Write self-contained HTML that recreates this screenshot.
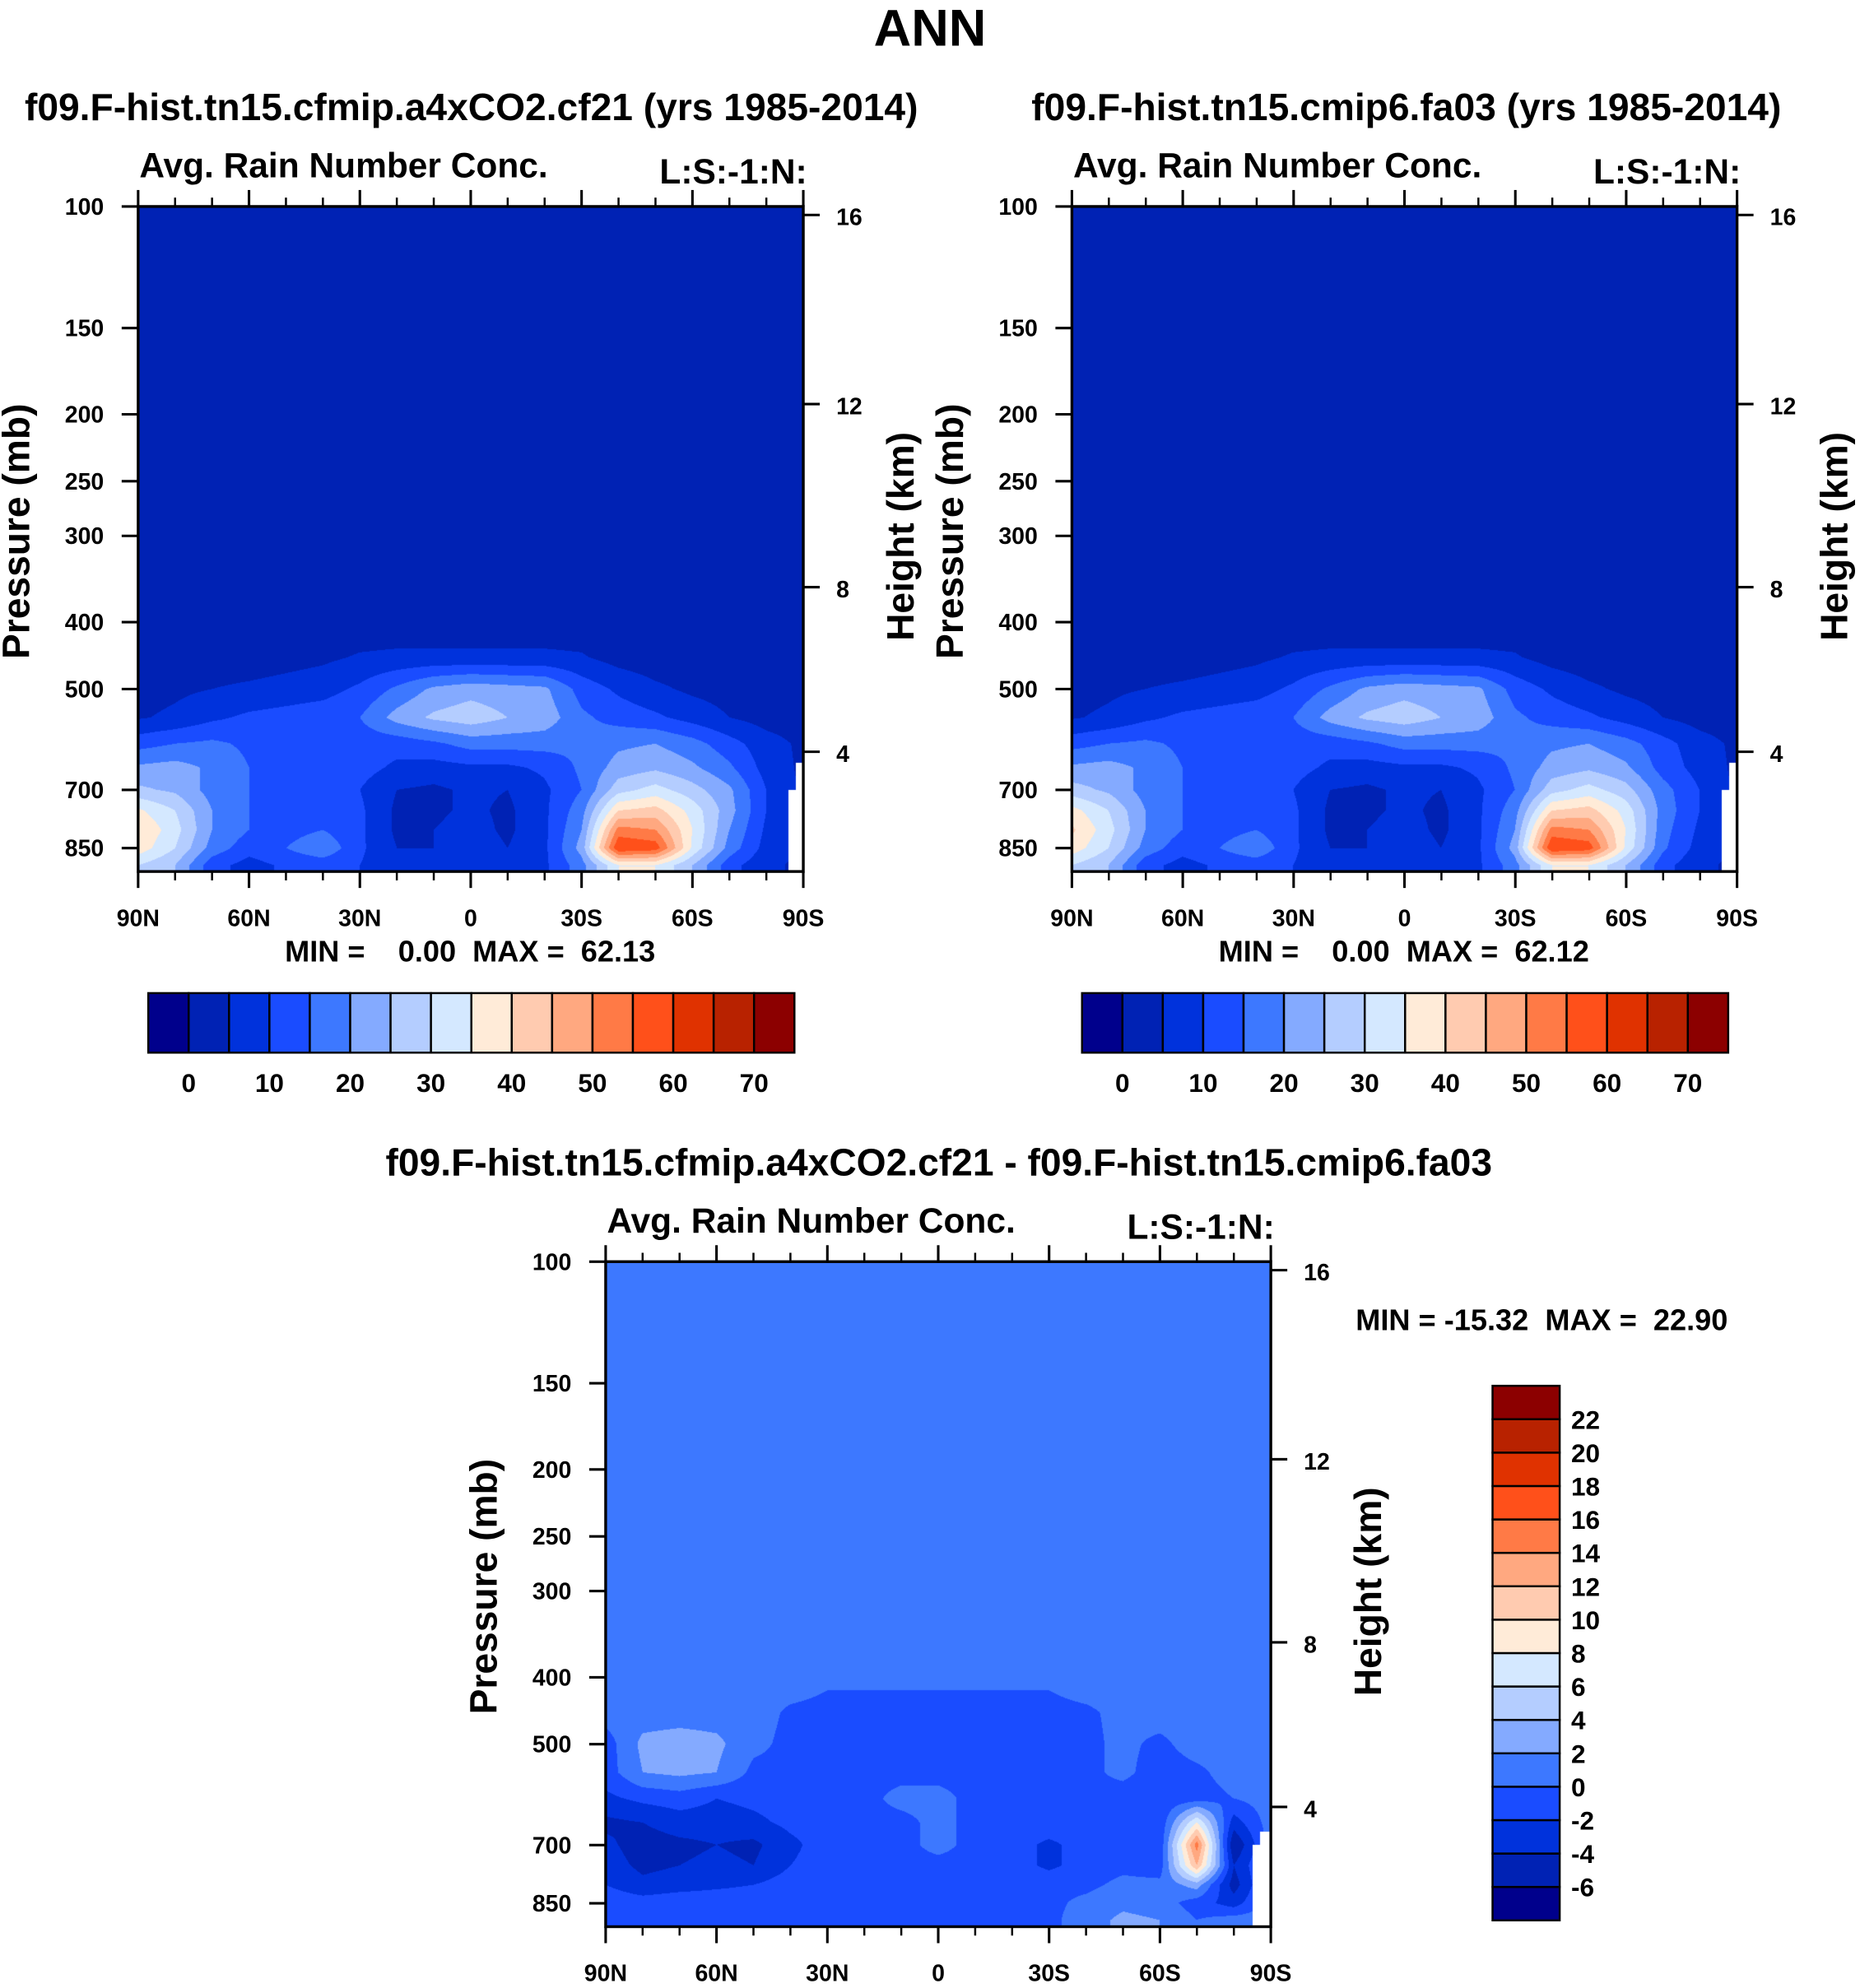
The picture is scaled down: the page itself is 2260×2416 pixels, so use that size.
<!DOCTYPE html>
<html><head><meta charset="utf-8"><title>ANN Avg. Rain Number Conc.</title>
<style>
html,body{margin:0;padding:0;background:#fff;}
#wrap{position:relative;width:2260px;height:2416px;overflow:hidden;background:#fff;}
canvas{position:absolute;}
svg{position:absolute;left:0;top:0;}
text{font-family:"Liberation Sans",Arial,sans-serif;font-weight:bold;fill:#000;}
</style></head>
<body>
<div id="wrap">
<canvas id="cA"></canvas>
<canvas id="cB"></canvas>
<canvas id="cC"></canvas>
<svg id="svg" width="2260" height="2416" viewBox="0 0 1468 1569.4">
<text x="734" y="36" font-size="41" text-anchor="middle">ANN</text>
<text x="372" y="95" font-size="30" text-anchor="middle">f09.F-hist.tn15.cfmip.a4xCO2.cf21 (yrs 1985-2014)</text>
<text x="1110" y="95" font-size="30" text-anchor="middle">f09.F-hist.tn15.cmip6.fa03 (yrs 1985-2014)</text>
<text x="741" y="928" font-size="30" text-anchor="middle">f09.F-hist.tn15.cfmip.a4xCO2.cf21 - f09.F-hist.tn15.cmip6.fa03</text>
<g id="axes"></g>
</svg>
</div>
<script>
// ---------- data ----------
const lats = [90,80,70,60,50,40,30,20,10,0,-10,-20,-30,-40,-50,-60,-70,-80,-90];
const presLevels = [100,400,450,500,550,600,650,700,750,800,850,900,950];
const fieldA = [
 [1,1,1,1,1,1,1,1,1,1,1,1,1,1,1,1,1,1,1],
 [2,2,2,2,2,2,2,2,2,2,2,2,2,2,2,2,2,2,2],
 [2,2,2,2,3,4,5.5,6,6,6,6,6,5.5,3,2,2,2,2,2],
 [3,4,5,6,7,8,11,16,21,23,22,21,13,9,6,4,3,2.5,2.5],
 [4.5,6,9,11,12,13,15,22,26,28,25,23,16,13,11,8,5,3,2.5],
 [13,15,16,14,12,12,12,12,14,17,17,17,16,19,20,17,12,7,4],
 [21,22,19,15,12,12,12,9,8,9,9,11,16,22,24,21,16,8,4],
 [26,24,18,15,12,12,10,5,4,6,5,9,15,28,32,27,21,10,4],
 [36,30,20,15,13,13,11,4,4,6,4,9,18,40,42,33,22,10,4],
 [40,32,20,15,13,15,11,4,5,7,4,9,20,52,50,35,20,9,4],
 [38,30,18,12,15,19,11,5,5,8,5,9,22,60,58,34,18,8,4],
 [30,25,12,8,11,12,10,6,6,8,6,9,18,35,35,25,12,6,4],
 [30,25,12,8,11,12,10,6,6,8,6,9,18,35,35,25,12,6,4]
];
const fieldB = [
 [1,1,1,1,1,1,1,1,1,1,1,1,1,1,1,1,1,1,1],
 [2,2,2,2,2,2,2,2,2,2,2,2,2,2,2,2,2,2,2],
 [2,2,2,2,3,4,5.5,6,6,6,6,6,5.5,3,2,2,2,2,2],
 [3,4,5,6,7,8,11,16,21,23,22,21,13,9,6,4,3,2.5,2.5],
 [4.5,6,9,11,12,13,15,22,26,28,25,23,16,13,11,8,5,3,2.5],
 [13,15,16,14,12,12,12,12,14,17,17,17,16,19,20,17,12,7,4],
 [21,22,19,15,12,12,12,9,8,9,9,11,16,22,24,21,13,8,4],
 [27,24,18,15,12,12,10,5,4,6,5,9,15,28,32,27,17,10,4],
 [37,30,20,15,13,13,11,4,4,6,4,9,18,40,42,33,18,10,4],
 [41,32,20,15,13,15,11,4,5,7,4,9,20,52,50,35,17,9,4],
 [38,30,18,12,15,19,11,5,5,8,5,9,22,60,58,34,16,8,4],
 [30,25,12,8,11,12,10,6,6,8,6,9,18,35,35,25,12,6,4],
 [30,25,12,8,11,12,10,6,6,8,6,9,18,35,35,25,12,6,4]
];
const fieldDiff = [
 [1,1,1,1,1,1,1,1,1,1,1,1,1,1,1,1,1,1,1],
 [1,1,1,1,1,1,0.3,0.3,0.3,0.3,0.3,0.3,0.3,1,1,1,1,1,1],
 [1,1,1,1,0.8,-0.3,-0.5,-0.5,-0.5,-0.5,-0.5,-0.5,-0.5,-0.3,0.5,1,1,1,1],
 [-1,2.5,3,2.5,0.5,-0.5,-0.5,-0.5,-0.5,-0.5,-0.5,-0.5,-0.5,-0.5,0.5,-0.5,1,1,1],
 [-1,2,2.5,2,-0.5,-0.5,-0.5,-0.5,-0.5,-0.5,-0.5,-0.5,-0.5,-0.5,0.5,-1,-0.5,1,1],
 [-2.5,-1.5,-1,-2,-1.5,-1,-0.5,-0.5,0.5,0.5,-0.5,-0.5,-0.5,-0.5,-1,-1.5,-1,0,1],
 [-4.5,-4,-3,-3,-2.5,-1.5,-1,-0.5,-0.5,0.5,-0.5,-1,-0.5,-1,-1,-1.5,8,-3,1],
 [-3.5,-5,-4.5,-4,-4.5,-2.5,-1,-0.5,-0.5,0.5,-0.5,-1,-2.5,-1,-0.5,-1.5,15,-6,1],
 [-3,-4.5,-4,-3.5,-4,-2,-1,-0.5,-0.5,-0.5,-0.5,-1,-2.5,-1,-0.5,-1,12,-4,1],
 [-2,-3.5,-3,-2.5,-2,-1,-0.5,-0.5,-0.5,-0.5,-0.5,-0.5,-0.5,-0.5,0.5,0.5,3,-5,1],
 [-0.5,-1,-0.5,-0.5,-0.5,-0.5,-0.5,-0.5,-0.5,-0.5,-0.5,-0.5,-0.5,0.5,1.5,1,-1,-3,1],
 [-0.5,-0.5,-0.5,-0.5,-0.5,-0.5,-0.5,-0.5,-0.5,-0.5,-0.5,-0.5,-0.5,1,2.5,2,0,1,1],
 [-0.5,-0.5,-0.5,-0.5,-0.5,-0.5,-0.5,-0.5,-0.5,-0.5,-0.5,-0.5,-0.5,1,2.5,2,0,1,1]
];
const levelsTop = [0,5,10,15,20,25,30,35,40,45,50,55,60,65,70];
const labelsTop = ["0","10","20","30","40","50","60","70"];
const levelsDiff = [-6,-4,-2,0,2,4,6,8,10,12,14,16,18,20,22];
const colors = ["#00008c","#0022b4","#0032dc","#1a4cff","#3d78ff","#84aaff","#b4cdff","#d4e8ff","#ffebd8","#ffcbb0","#ffa880","#ff7a46","#ff501a","#e03200","#b82200","#8c0000"];
const presTicks = [100,150,200,250,300,400,500,700,850];
const heightTicks = [16,12,8,4];
const latMajor = [90,60,30,0,-30,-60,-90];
const latLabels = ["90N","60N","30N","0","30S","60S","90S"];
const latMinor = [80,70,50,40,20,10,-10,-20,-40,-50,-70,-80];
const missingTop = [[-86,700],[-88,640]];
const missingDiff = [[-85,700],[-87,670]];

// ---------- layout ----------
const S = 2260/1468;
const PW = 525, PH = 525;
const plots = [
 {id:"cA", left:109, top:163, field:fieldA, levels:levelsTop, miss:missingTop, name:"cf21"},
 {id:"cB", left:846, top:163, field:fieldB, levels:levelsTop, miss:missingTop, name:"fa03"},
 {id:"cC", left:478, top:996, field:fieldDiff, levels:levelsDiff, miss:missingDiff, name:"difference"}
];
function xOfLat(pl, lat){ return pl.left + (90-lat)/180*PW; }
function latOfX(pl, x){ return 90 - (x-pl.left)/PW*180; }
function yOfP(pl, p){ return pl.top + (Math.log10(p)-2)*545; }
function pOfY(pl, y){ return Math.pow(10, 2 + (y-pl.top)/545); }
function pOfHeight(zkm){
  const z = zkm*1000;
  if (z <= 11000) return 1013.25*Math.pow(1-2.25577e-5*z, 5.2559);
  return 226.32*Math.exp(-(z-11000)/6341.6);
}
function levelIndex(levels, v){ let k=0; while(k<levels.length && v>=levels[k]) k++; return k; }
function hexToRgb(h){ return [parseInt(h.substr(1,2),16),parseInt(h.substr(3,2),16),parseInt(h.substr(5,2),16)]; }
const rgb = colors.map(hexToRgb);

function sample(field, lat, p){
  let fi = (lats[0]-lat)/(lats[0]-lats[lats.length-1])*(lats.length-1);
  fi = Math.max(0, Math.min(lats.length-1.0001, fi));
  const i0 = Math.floor(fi), tx = fi-i0;
  const lp = Math.log10(p);
  let r = 0;
  while (r < presLevels.length-2 && Math.log10(presLevels[r+1]) < lp) r++;
  const a = Math.log10(presLevels[r]), b = Math.log10(presLevels[r+1]);
  let ty = (lp-a)/(b-a); ty = Math.max(0, Math.min(1, ty));
  const v00 = field[r][i0], v01 = field[r][i0+1], v10 = field[r+1][i0], v11 = field[r+1][i0+1];
  return (v00*(1-tx)+v01*tx)*(1-ty) + (v10*(1-tx)+v11*tx)*ty;
}

plots.forEach(pl=>{
  const c = document.getElementById(pl.id);
  const W = Math.round(PW*S), H = Math.round(PH*S);
  c.width = W; c.height = H;
  c.style.left = (pl.left*S)+"px"; c.style.top = (pl.top*S)+"px";
  c.style.width = W+"px"; c.style.height = H+"px";
  const ctx = c.getContext("2d");
  const img = ctx.createImageData(W,H);
  for (let j=0;j<H;j++){
    const dy = pl.top + (j+0.5)/H*PH;
    const p = pOfY(pl, dy);
    for (let i=0;i<W;i++){
      const dx = pl.left + (i+0.5)/W*PW;
      const lat = latOfX(pl, dx);
      let col;
      let miss = false;
      for (const m of pl.miss){ if (lat < m[0] && p > m[1]) miss = true; }
      if (miss) col = [255,255,255];
      else col = rgb[levelIndex(pl.levels, sample(pl.field, lat, p))];
      const o = (j*W+i)*4;
      img.data[o]=col[0]; img.data[o+1]=col[1]; img.data[o+2]=col[2]; img.data[o+3]=255;
    }
  }
  ctx.putImageData(img,0,0);
});

// ---------- axes overlay ----------
const NS = "http://www.w3.org/2000/svg";
const g = document.getElementById("axes");
function mk(tag, attrs, parent){
  const e = document.createElementNS(NS, tag);
  for (const k in attrs) e.setAttribute(k, attrs[k]);
  (parent||g).appendChild(e); return e;
}
function txt(x,y,s,size,anchor,parent){
  const t = mk("text",{x:x,y:y,"font-size":size,"text-anchor":anchor||"start"},parent);
  t.textContent = s; return t;
}

const minmax = ["MIN =    0.00  MAX =  62.13","MIN =    0.00  MAX =  62.12"];
plots.forEach((pl,pi)=>{
  const grp = mk("g",{});
  
  
  const L = pl.left, T = pl.top, R = L+PW, B = T+PH;
  const fr = mk("rect",{x:L,y:T,width:PW,height:PH,fill:"none",stroke:"#000","stroke-width":2.2},grp);
  
  
  presTicks.forEach(p=>{
    const y = yOfP(pl,p);
    const tk = mk("line",{x1:L-13,y1:y,x2:L,y2:y,stroke:"#000","stroke-width":2},grp);
    
    
    const t = txt(L-27,y+6.5,String(p),18.5,"end",grp);
    
    
  });
  heightTicks.forEach(z=>{
    const y = yOfP(pl,pOfHeight(z));
    const tk = mk("line",{x1:R,y1:y,x2:R+13,y2:y,stroke:"#000","stroke-width":2},grp);
    
    
    const t = txt(R+26,y+8,String(z),18.5,"start",grp);
    
    
  });
  latMajor.forEach((lat,k)=>{
    const x = xOfLat(pl,lat);
    const t1 = mk("line",{x1:x,y1:B,x2:x,y2:B+13,stroke:"#000","stroke-width":2},grp);
    
    
    const t2 = mk("line",{x1:x,y1:T-13,x2:x,y2:T,stroke:"#000","stroke-width":2},grp);
    
    
    const t = txt(x,B+43,latLabels[k],18.5,"middle",grp);
    
    
  });
  latMinor.forEach(lat=>{
    const x = xOfLat(pl,lat);
    const t1 = mk("line",{x1:x,y1:B,x2:x,y2:B+7,stroke:"#000","stroke-width":1.6},grp);
    
    
    const t2 = mk("line",{x1:x,y1:T-7,x2:x,y2:T,stroke:"#000","stroke-width":1.6},grp);
    
    
  });
  const a = txt(L+1,T-23,"Avg. Rain Number Conc.",27.6,"start",grp);
  
  
  const b = txt(R+3,T-18,"L:S:-1:N:",27.6,"end",grp);
  
  
  const yc = T+PH/2-8;
  const pt = txt(0,0,"Pressure (mb)",30,"middle",grp);
  pt.setAttribute("transform","translate("+(L-86)+","+(yc+2)+") rotate(-90)");
  
  
  const ht = txt(0,0,"Height (km)",30,"middle",grp);
  ht.setAttribute("transform","translate("+(R+87)+","+(yc+6)+") rotate(-90)");
  
  
  if (pi < 2){
    const m = txt(L+262,B+71,minmax[pi],23.5,"middle",grp);
    m.style.whiteSpace = "pre";
    
    
  }
});
{
  const m = txt(1070,1050,"MIN = -15.32  MAX =  22.90",23.5,"start");
  m.style.whiteSpace = "pre";
  
  
}

[117,854].forEach((x0,ci)=>{
  const grp = mk("g",{});
  
  
  const w = 510/colors.length, y0 = 784, h = 47;
  colors.forEach((c,k)=>{
    const r = mk("rect",{x:x0+k*w,y:y0,width:w,height:h,fill:c,stroke:"#000","stroke-width":1.6},grp);
    
    
  });
  levelsTop.forEach((lv,k)=>{
    if (k%2===0){
      const t = txt(x0+(k+1)*w, y0+h+31, labelsTop[k/2], 20.5, "middle", grp);
      
      
    }
  });
});
{
  const grp = mk("g",{});
  
  
  const x0 = 1178, y0 = 1094, w = 53, h = (1516-1094)/colors.length;
  colors.forEach((c,k)=>{
    const r = mk("rect",{x:x0,y:y0+(colors.length-1-k)*h,width:w,height:h,fill:c,stroke:"#000","stroke-width":1.6},grp);
    
    
  });
  levelsDiff.forEach((lv,k)=>{
    const y = y0 + (colors.length-1-k)*h;
    const t = txt(x0+w+9, y+7.5, String(lv), 20.5, "start", grp);
    
    
  });
}
</script>
</body></html>
